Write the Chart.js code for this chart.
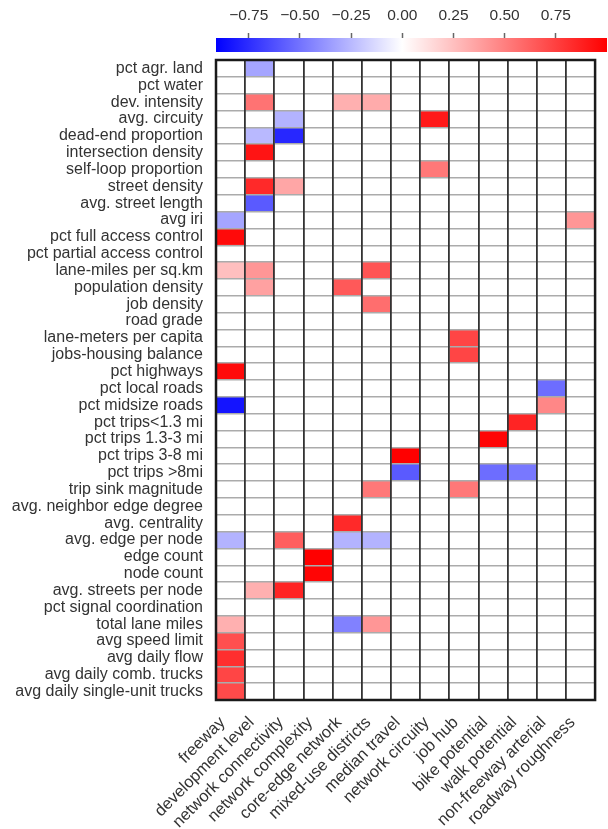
<!DOCTYPE html>
<html>
<head>
<meta charset="utf-8">
<script src="https://cdn.jsdelivr.net/npm/chart.js@4/dist/chart.umd.min.js"></script>
<style>
  html, body { margin: 0; padding: 0; background: #fff; }
  #wrap { position: relative; width: 608px; height: 829px; overflow: hidden; }
  #heat, #cbar { position: absolute; left: 0; top: 0; }
</style>
</head>
<body>
<div id="wrap">
  <canvas id="heat" width="608" height="829"></canvas>
  <canvas id="cbar" width="608" height="58"></canvas>
</div>
<script>
// Row variables (top to bottom)
const rowLabels = [
  'pct agr. land', 'pct water', 'dev. intensity', 'avg. circuity', 'dead-end proportion',
  'intersection density', 'self-loop proportion', 'street density', 'avg. street length', 'avg iri',
  'pct full access control', 'pct partial access control', 'lane-miles per sq.km', 'population density', 'job density',
  'road grade', 'lane-meters per capita', 'jobs-housing balance', 'pct highways', 'pct local roads',
  'pct midsize roads', 'pct trips<1.3 mi', 'pct trips 1.3-3 mi', 'pct trips 3-8 mi', 'pct trips >8mi',
  'trip sink magnitude', 'avg. neighbor edge degree', 'avg. centrality', 'avg. edge per node', 'edge count',
  'node count', 'avg. streets per node', 'pct signal coordination', 'total lane miles', 'avg speed limit',
  'avg daily flow', 'avg daily comb. trucks', 'avg daily single-unit trucks'
];

// Factor columns (left to right)
const columns = [
  'freeway', 'development level', 'network connectivity', 'network complexity', 'core-edge network',
  'mixed-use districts', 'median travel', 'network circuity', 'job hub', 'bike potential',
  'walk potential', 'non-freeway arterial', 'roadway roughness'
];

// Loadings per factor, one entry per row variable (0 = not significant)
const freeway = [
  0, 0, 0, 0, 0, 0, 0, 0, 0, -0.32,
  0.96, 0, 0.25, 0, 0, 0, 0, 0, 0.96, 0,
  -0.84, 0, 0, 0, 0, 0, 0, 0, -0.27, 0,
  0, 0, 0, 0.31, 0.69, 0.82, 0.73, 0.71
];
const developmentLevel = [
  -0.32, 0, 0.55, 0, -0.25, 0.92, 0, 0.84, -0.59, 0,
  0, 0, 0.41, 0.37, 0, 0, 0, 0, 0, 0,
  0, 0, 0, 0, 0, 0, 0, 0, 0, 0,
  0, 0.31, 0, 0, 0, 0, 0, 0
];
const networkConnectivity = [
  0, 0, 0, -0.27, -0.77, 0, 0, 0.35, 0, 0,
  0, 0, 0, 0, 0, 0, 0, 0, 0, 0,
  0, 0, 0, 0, 0, 0, 0, 0, 0.63, 0,
  0, 0.86, 0, 0, 0, 0, 0, 0
];
const networkComplexity = [
  0, 0, 0, 0, 0, 0, 0, 0, 0, 0,
  0, 0, 0, 0, 0, 0, 0, 0, 0, 0,
  0, 0, 0, 0, 0, 0, 0, 0, 0, 1.0,
  0.98, 0, 0, 0, 0, 0, 0, 0
];
const coreEdgeNetwork = [
  0, 0, 0.31, 0, 0, 0, 0, 0, 0, 0,
  0, 0, 0, 0.65, 0, 0, 0, 0, 0, 0,
  0, 0, 0, 0, 0, 0, 0, 0.84, -0.27, 0,
  0, 0, 0, -0.45, 0, 0, 0, 0
];
const mixedUseDistricts = [
  0, 0, 0.33, 0, 0, 0, 0, 0, 0, 0,
  0, 0, 0.67, 0, 0.57, 0, 0, 0, 0, 0,
  0, 0, 0, 0, 0, 0.53, 0, 0, -0.27, 0,
  0, 0, 0, 0.41, 0, 0, 0, 0
];
const medianTravel = [
  0, 0, 0, 0, 0, 0, 0, 0, 0, 0,
  0, 0, 0, 0, 0, 0, 0, 0, 0, 0,
  0, 0, 0, 1.0, -0.59, 0, 0, 0, 0, 0,
  0, 0, 0, 0, 0, 0, 0, 0
];
const networkCircuity = [
  0, 0, 0, 0.90, 0, 0, 0.53, 0, 0, 0,
  0, 0, 0, 0, 0, 0, 0, 0, 0, 0,
  0, 0, 0, 0, 0, 0, 0, 0, 0, 0,
  0, 0, 0, 0, 0, 0, 0, 0
];
const jobHub = [
  0, 0, 0, 0, 0, 0, 0, 0, 0, 0,
  0, 0, 0, 0, 0, 0, 0.73, 0.73, 0, 0,
  0, 0, 0, 0, 0, 0.53, 0, 0, 0, 0,
  0, 0, 0, 0, 0, 0, 0, 0
];
const bikePotential = [
  0, 0, 0, 0, 0, 0, 0, 0, 0, 0,
  0, 0, 0, 0, 0, 0, 0, 0, 0, 0,
  0, 0, 0.98, 0, -0.52, 0, 0, 0, 0, 0,
  0, 0, 0, 0, 0, 0, 0, 0
];
const walkPotential = [
  0, 0, 0, 0, 0, 0, 0, 0, 0, 0,
  0, 0, 0, 0, 0, 0, 0, 0, 0, 0,
  0, 0.86, 0, 0, -0.48, 0, 0, 0, 0, 0,
  0, 0, 0, 0, 0, 0, 0, 0
];
const nonFreewayArterial = [
  0, 0, 0, 0, 0, 0, 0, 0, 0, 0,
  0, 0, 0, 0, 0, 0, 0, 0, 0, -0.52,
  0.47, 0, 0, 0, 0, 0, 0, 0, 0, 0,
  0, 0, 0, 0, 0, 0, 0, 0
];
const roadwayRoughness = [
  0, 0, 0, 0, 0, 0, 0, 0, 0, 0.41,
  0, 0, 0, 0, 0, 0, 0, 0, 0, 0,
  0, 0, 0, 0, 0, 0, 0, 0, 0, 0,
  0, 0, 0, 0, 0, 0, 0, 0
];

const columnValues = [
  freeway, developmentLevel, networkConnectivity, networkComplexity, coreEdgeNetwork,
  mixedUseDistricts, medianTravel, networkCircuity, jobHub, bikePotential,
  walkPotential, nonFreewayArterial, roadwayRoughness
];

// Colour bar range and tick labels
const CBAR_MIN = -0.91;
const CBAR_MAX = 1.0;
const cbarTicks = [-0.75, -0.5, -0.25, 0, 0.25, 0.5, 0.75];

const FONT = "'Liberation Sans', Arial, Helvetica, sans-serif";
const TEXT = '#333333';

// Diverging blue-white-red scale, white at zero
function colorFor(v) {
  if (v >= 0) {
    const a = Math.min(1, v / CBAR_MAX);
    const c = Math.round(255 * (1 - a));
    return `rgb(255,${c},${c})`;
  }
  const a = Math.min(1, v / CBAR_MIN);
  const c = Math.round(255 * (1 - a));
  return `rgb(${c},${c},255)`;
}

function fmtTick(v) {
  return (v < 0 ? '\u2212' : '') + Math.abs(v).toFixed(2);
}

// One dataset per factor column; each cell is a floating bar spanning its column
const datasets = columns.map((name, j) => ({
  label: name,
  data: rowLabels.map(() => [j, j + 1]),
  backgroundColor: columnValues[j].map(colorFor),
  borderWidth: 0,
  grouped: false,
  barPercentage: 1,
  categoryPercentage: 1,
  xAxisID: 'x',
  yAxisID: 'y'
}));

const frame = {
  id: 'frame',
  afterDraw(chart) {
    const { ctx, chartArea: a } = chart;
    ctx.save();
    ctx.strokeStyle = '#1a1a1a';
    ctx.lineWidth = 2.5;
    ctx.strokeRect(a.left, a.top, a.right - a.left, a.bottom - a.top);
    ctx.restore();
  }
};

new Chart(document.getElementById('heat'), {
  type: 'bar',
  data: { labels: rowLabels, datasets },
  options: {
    indexAxis: 'y',
    responsive: false,
    animation: false,
    layout: { padding: { top: 60, right: 1, left: 0, bottom: 0 } },
    plugins: { legend: { display: false }, tooltip: { enabled: false } },
    scales: {
      y: {
        type: 'category',
        offset: true,
        grid: { color: '#ababab', lineWidth: 1.5, drawTicks: false, offset: true, z: 1 },
        border: { display: false },
        ticks: { color: TEXT, font: { size: 16, family: FONT }, padding: 13, autoSkip: false },
        afterFit: (s) => { s.width = 216; }
      },
      x: {
        type: 'linear',
        position: 'top',
        min: 0,
        max: 13,
        grid: { color: '#333333', lineWidth: 1.8, drawTicks: false, z: 2 },
        border: { display: false },
        ticks: { display: false, stepSize: 1 }
      },
      xl: {
        type: 'linear',
        position: 'bottom',
        min: 0,
        max: 13,
        grid: { display: false, drawTicks: false },
        border: { display: false },
        afterBuildTicks: (s) => { s.ticks = columns.map((_, i) => ({ value: i + 0.5 })); },
        afterFit: (s) => { s.height = 129; },
        ticks: {
          autoSkip: false,
          maxRotation: 45,
          minRotation: 45,
          color: TEXT,
          font: { size: 16.5, family: FONT },
          padding: 13,
          labelOffset: -8,
          callback: (v, i) => columns[i]
        }
      }
    }
  },
  plugins: [frame]
});

// Colour bar drawn as a single floating bar over the value range
function gradientFill(ctx) {
  const chart = ctx.chart;
  if (!chart.chartArea) return '#ffffff';
  const xs = chart.scales.x;
  const x0 = xs.getPixelForValue(CBAR_MIN);
  const x1 = xs.getPixelForValue(CBAR_MAX);
  const g = chart.ctx.createLinearGradient(x0, 0, x1, 0);
  g.addColorStop(0, 'rgb(0,0,255)');
  g.addColorStop((0 - CBAR_MIN) / (CBAR_MAX - CBAR_MIN), 'rgb(255,255,255)');
  g.addColorStop(1, 'rgb(255,0,0)');
  return g;
}

new Chart(document.getElementById('cbar'), {
  type: 'bar',
  data: {
    labels: [''],
    datasets: [{
      data: [[CBAR_MIN, CBAR_MAX]],
      backgroundColor: gradientFill,
      borderWidth: 0,
      barPercentage: 1,
      categoryPercentage: 1
    }]
  },
  options: {
    indexAxis: 'y',
    responsive: false,
    animation: false,
    layout: { padding: { top: 0, right: 1, left: 216, bottom: 6 } },
    plugins: { legend: { display: false }, tooltip: { enabled: false } },
    scales: {
      y: { display: false },
      x: {
        type: 'linear',
        position: 'top',
        min: CBAR_MIN,
        max: CBAR_MAX,
        afterBuildTicks: (s) => { s.ticks = cbarTicks.map((v) => ({ value: v })); },
        afterFit: (s) => { s.height = 38; },
        grid: { drawOnChartArea: false, drawTicks: true, tickLength: 5, tickColor: '#666666', tickWidth: 1.5 },
        border: { display: false },
        ticks: {
          autoSkip: false,
          maxRotation: 0,
          color: TEXT,
          font: { size: 15.5, family: FONT },
          padding: 8,
          callback: (v) => fmtTick(v)
        }
      }
    }
  }
});
</script>
</body>
</html>
